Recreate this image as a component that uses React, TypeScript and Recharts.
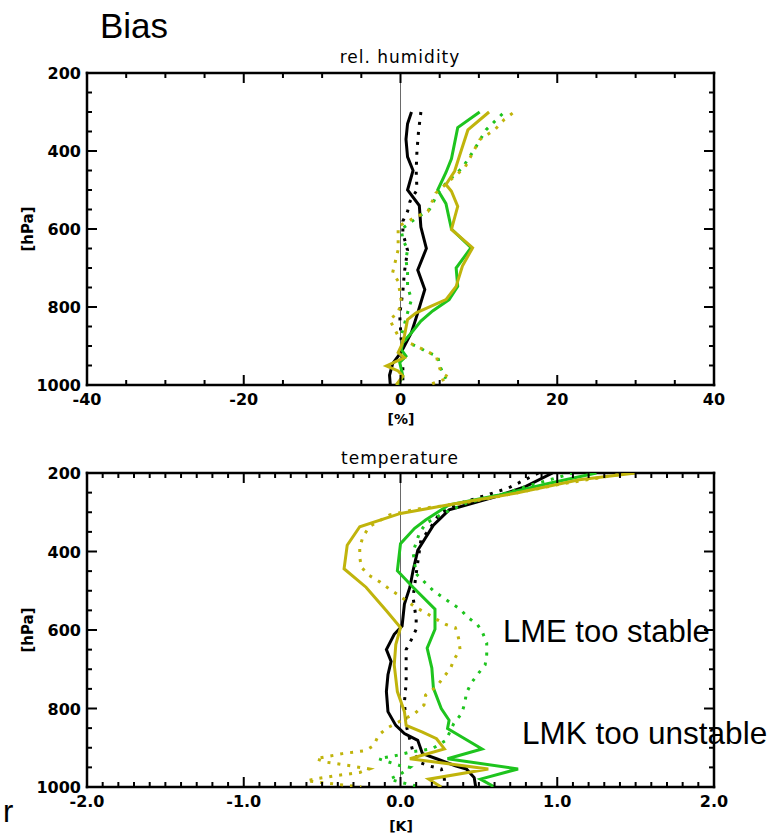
import React from "react";
import { ScatterChart, Scatter, XAxis, YAxis, ReferenceLine } from "recharts";

// profiles are [pressure hPa, bias] pairs, top to bottom
type Pt = [number, number];

const GREEN = "#1ec41e";
const OLIVE = "#c0b40c";
const BLACK = "#000000";

const pressureTicks = [200, 250, 300, 350, 400, 450, 500, 550, 600, 650, 700, 750, 800, 850, 900, 950, 1000];
const rhTicks = [-40, -35, -30, -25, -20, -15, -10, -5, 0, 5, 10, 15, 20, 25, 30, 35, 40];
const tTicks = Array.from({ length: 41 }, (_, i) => (i - 20) / 10);

// relative humidity bias [%]
const rhBlackSolid: Pt[] = [
  [300, 1.4], [330, 0.9], [370, 0.7], [415, 0.9], [450, 1.6], [500, 0.9], [540, 2.4], [595, 2.6],
  [650, 3.3], [705, 2.2], [755, 3.1], [815, 2.2], [865, 1.4], [915, 0.1], [945, -1.0], [975, -1.4], [1000, -1.3],
];
const rhBlackDotted: Pt[] = [
  [300, 2.6], [350, 2.3], [400, 2.1], [450, 2.0], [500, 2.1], [530, 1.2], [555, 0.9], [580, 0.3], [610, 0.3],
  [655, 0.9], [710, 0.5], [760, 0.3], [820, -0.1], [890, 0.1], [940, 0.3], [1000, 0.3],
];
const rhGreenSolid: Pt[] = [
  [300, 10.1], [340, 7.3], [420, 6.5], [455, 5.8], [500, 4.75], [535, 5.8], [600, 6.5], [648, 9.0], [700, 7.1],
  [747, 7.3], [781, 6.2], [810, 4.1], [836, 2.6], [866, 1.4], [891, 0.3], [909, 0.1], [926, 0.7], [942, -0.1],
  [977, 0.3], [1000, -0.3],
];
const rhGreenDotted: Pt[] = [
  [305, 13.0], [346, 10.9], [397, 9.4], [443, 7.9], [469, 6.5], [499, 5.0], [550, 3.7], [567, 2.4], [584, 1.2],
  [601, 0.1], [627, 0.3], [653, 0.9], [678, 0.7], [712, 0.9], [747, 0.9], [781, 1.4], [815, 0.9], [874, 0.1],
  [891, 0.9], [904, 2.4], [917, 3.5], [926, 4.75], [951, 5.0], [968, 5.4], [984, 5.8],
];
const rhOliveSolid: Pt[] = [
  [300, 11.3], [346, 8.6], [414, 7.5], [452, 6.9], [486, 5.8], [503, 6.5], [542, 7.3], [601, 6.5], [648, 9.2],
  [695, 7.9], [747, 7.1], [781, 5.8], [815, 2.0], [832, 0.9], [874, 0.5], [900, 0.1], [917, -0.3], [930, 0.5],
  [951, -1.8], [964, -0.3], [977, 0.3], [1000, -0.55],
];
const rhOliveDotted: Pt[] = [
  [303, 14.3], [320, 13.2], [346, 12.0], [371, 10.1], [443, 8.2], [465, 6.9], [508, 4.5], [555, 3.5], [567, 2.2],
  [593, -0.3], [653, -0.3], [712, -1.0], [734, -0.3], [785, 0.1], [815, -0.3], [832, -1.4], [874, -0.3],
  [887, 0.5], [900, 2.0], [913, 3.3], [926, 4.6], [943, 4.75], [968, 5.2], [981, 6.2], [1000, 3.6],
];

// temperature bias [K]
const tBlackSolid: Pt[] = [
  [200, 0.97], [234, 0.8], [260, 0.61], [294, 0.31], [333, 0.21], [397, 0.11], [449, 0.08], [491, 0.06],
  [534, 0.025], [590, 0.01], [611, -0.04], [650, -0.09], [680, -0.06], [714, -0.08], [757, -0.09], [808, -0.08],
  [843, -0.03], [864, 0.025], [881, 0.11], [915, 0.14], [928, 0.23], [946, 0.35], [954, 0.42], [976, 0.47], [1000, 0.48],
];
const tBlackDotted: Pt[] = [
  [200, 0.88], [238, 0.69], [260, 0.52], [277, 0.38], [303, 0.25], [346, 0.18], [371, 0.13], [457, 0.1],
  [517, 0.08], [543, 0.09], [573, 0.1], [598, 0.1], [624, 0.07], [650, 0.036], [735, 0.036], [784, 0.025],
  [843, 0.036], [911, 0.08], [937, 0.12], [946, 0.18], [954, 0.26], [980, 0.28], [1000, 0.28],
];
const tGreenSolid: Pt[] = [
  [200, 1.25], [226, 0.95], [256, 0.63], [281, 0.31], [320, 0.16], [341, 0.09], [380, 0.0], [449, -0.02],
  [491, 0.08], [547, 0.22], [598, 0.22], [646, 0.17], [697, 0.2], [748, 0.21], [800, 0.26], [830, 0.31],
  [851, 0.3], [877, 0.41], [903, 0.52], [928, 0.3], [954, 0.75], [980, 0.51], [1000, 0.6],
];
const tGreenDotted: Pt[] = [
  [200, 1.1], [213, 0.99], [230, 0.84], [256, 0.63], [277, 0.42], [303, 0.27], [329, 0.16], [354, 0.12],
  [401, 0.08], [457, 0.1], [500, 0.21], [517, 0.27], [547, 0.38], [568, 0.43], [586, 0.49], [603, 0.52],
  [633, 0.55], [663, 0.55], [689, 0.54], [714, 0.49], [736, 0.45], [761, 0.42], [787, 0.41], [813, 0.39],
  [838, 0.34], [881, 0.29], [903, 0.2], [911, 0.06], [920, -0.03], [928, -0.14], [937, -0.07], [946, 0.0],
  [950, 0.06], [967, 0.0], [980, -0.07], [988, 0.0], [1000, 0.13],
];
const tOliveSolid: Pt[] = [
  [200, 1.5], [217, 1.14], [251, 0.74], [281, 0.31], [303, 0.0], [337, -0.26], [384, -0.34], [444, -0.36],
  [491, -0.22], [551, -0.09], [594, 0.0], [637, -0.03], [689, -0.04], [757, -0.02], [808, 0.025], [843, 0.036],
  [860, 0.14], [877, 0.23], [903, 0.28], [928, 0.06], [954, 0.56], [980, 0.18], [1000, 0.26],
];
const tOliveDotted: Pt[] = [
  [200, 1.45], [230, 1.0], [262, 0.6], [280, 0.35], [292, 0.1], [307, -0.07], [337, -0.2], [363, -0.24],
  [389, -0.26], [414, -0.26], [440, -0.25], [461, -0.2], [478, -0.13], [496, -0.07], [509, -0.02], [543, 0.1],
  [556, 0.16], [573, 0.23], [586, 0.29], [594, 0.35], [620, 0.37], [650, 0.38], [676, 0.34], [697, 0.32],
  [723, 0.27], [744, 0.23], [766, 0.16], [791, 0.15], [813, 0.09], [838, -0.03], [851, -0.09], [868, -0.14],
  [894, -0.17], [907, -0.22], [915, -0.37], [924, -0.49], [928, -0.54], [937, -0.47], [946, -0.32], [954, -0.2],
  [963, -0.26], [971, -0.41], [980, -0.55], [984, -0.6], [988, -0.52], [1000, -0.25],
];

type Series = { data: Pt[]; color: string; dotted: boolean };

const rhSeries: Series[] = [
  { data: rhBlackSolid, color: BLACK, dotted: false },
  { data: rhBlackDotted, color: BLACK, dotted: true },
  { data: rhGreenSolid, color: GREEN, dotted: false },
  { data: rhGreenDotted, color: GREEN, dotted: true },
  { data: rhOliveSolid, color: OLIVE, dotted: false },
  { data: rhOliveDotted, color: OLIVE, dotted: true },
];
const tSeries: Series[] = [
  { data: tBlackSolid, color: BLACK, dotted: false },
  { data: tBlackDotted, color: BLACK, dotted: true },
  { data: tGreenSolid, color: GREEN, dotted: false },
  { data: tGreenDotted, color: GREEN, dotted: true },
  { data: tOliveSolid, color: OLIVE, dotted: false },
  { data: tOliveDotted, color: OLIVE, dotted: true },
];

const IDL_FONT = "'DejaVu Sans', sans-serif";
const ANNO_FONT = "'Liberation Sans', Arial, sans-serif";

const isMajor = (v: number, step: number) => Math.abs(v / step - Math.round(v / step)) < 1e-6;
const noShape = () => <g />;

const tickLabelStyle = { fontFamily: IDL_FONT, fontWeight: 700, fontSize: 16, fill: "#000" };

function makeTicks(side: "bottom" | "top" | "left" | "right", step: number, fmt?: (v: number) => string) {
  return (props: any) => {
    const { x, y, payload } = props;
    const major = isMajor(payload.value, step);
    const len = major ? 10 : 5;
    let line;
    if (side === "bottom") line = <line x1={x} y1={y} x2={x} y2={y - len} />;
    else if (side === "top") line = <line x1={x} y1={y} x2={x} y2={y + len} />;
    else if (side === "left") line = <line x1={x} y1={y} x2={x + len} y2={y} />;
    else line = <line x1={x} y1={y} x2={x - len} y2={y} />;
    return (
      <g stroke="#000" strokeWidth={2}>
        {line}
        {major && fmt && side === "bottom" && (
          <text x={x} y={y + 20} textAnchor="middle" stroke="none" style={tickLabelStyle}>
            {fmt(payload.value)}
          </text>
        )}
        {major && fmt && side === "left" && (
          <text x={x - 6} y={y + 6} textAnchor="end" stroke="none" style={tickLabelStyle}>
            {fmt(payload.value)}
          </text>
        )}
      </g>
    );
  };
}

const axisLine = { stroke: "#000", strokeWidth: 2.5, strokeLinecap: "square" as const };

function ProfilePanel({
  series,
  domain,
  ticks,
  step,
  fmt,
  height,
}: {
  series: Series[];
  domain: [number, number];
  ticks: number[];
  step: number;
  fmt: (v: number) => string;
  height: number;
}) {
  return (
    <ScatterChart width={770} height={height} margin={{ top: 72, right: 55, bottom: 0, left: 0 }}>
      <XAxis
        xAxisId="b"
        type="number"
        dataKey="x"
        domain={domain}
        ticks={ticks}
        interval={0}
        height={34}
        tickSize={0}
        tickMargin={0}
        tickLine={false}
        axisLine={axisLine}
        tick={makeTicks("bottom", step, fmt)}
        allowDataOverflow
      />
      <XAxis
        xAxisId="t"
        orientation="top"
        type="number"
        dataKey="x"
        domain={domain}
        ticks={ticks}
        interval={0}
        height={1}
        tickSize={0}
        tickMargin={0}
        tickLine={false}
        axisLine={axisLine}
        tick={makeTicks("top", step)}
        allowDataOverflow
      />
      <YAxis
        yAxisId="l"
        type="number"
        dataKey="y"
        domain={[200, 1000]}
        reversed
        ticks={pressureTicks}
        interval={0}
        width={87}
        tickSize={0}
        tickMargin={0}
        tickLine={false}
        axisLine={axisLine}
        tick={makeTicks("left", 200, (v) => String(v))}
        allowDataOverflow
      />
      <YAxis
        yAxisId="r"
        orientation="right"
        type="number"
        dataKey="y"
        domain={[200, 1000]}
        reversed
        ticks={pressureTicks}
        interval={0}
        width={1}
        tickSize={0}
        tickMargin={0}
        tickLine={false}
        axisLine={axisLine}
        tick={makeTicks("right", 200)}
        allowDataOverflow
      />
      <ReferenceLine xAxisId="b" yAxisId="l" x={0} stroke="#6a6a6a" strokeWidth={1} />
      {series.map((s, i) => (
        <Scatter
          key={i}
          xAxisId={s.dotted ? "t" : "b"}
          yAxisId={s.dotted ? "r" : "l"}
          data={s.data.map(([p, v]) => ({ x: v, y: p }))}
          shape={noShape}
          fill={s.color}
          line={{
            stroke: s.color,
            strokeWidth: 3,
            strokeDasharray: s.dotted ? "3 7" : "none",
          }}
          legendType="none"
          isAnimationActive={false}
        />
      ))}
    </ScatterChart>
  );
}

const centered = (left: number, top: number, extra: React.CSSProperties = {}): React.CSSProperties => ({
  position: "absolute",
  left,
  top,
  transform: "translate(-50%, -50%)",
  whiteSpace: "nowrap",
  lineHeight: 1,
  ...extra,
});

export default function App() {
  return (
    <div style={{ position: "relative", width: 770, height: 835, background: "#fff", overflow: "hidden" }}>
      <style>{`body{margin:0;background:#fff}`}</style>
      <div style={{ position: "absolute", left: 0, top: 0 }}>
        <ProfilePanel series={rhSeries} domain={[-40, 40]} ticks={rhTicks} step={20} fmt={(v) => String(v)} height={419} />
      </div>
      <div style={{ position: "absolute", left: 0, top: 400 }}>
        <ProfilePanel series={tSeries} domain={[-2, 2]} ticks={tTicks} step={1} fmt={(v) => v.toFixed(1)} height={421} />
      </div>

      <div style={{ position: "absolute", left: 100, top: 8, fontFamily: ANNO_FONT, fontSize: 35, lineHeight: 1 }}>Bias</div>

      <div style={centered(400, 57, { fontFamily: IDL_FONT, fontSize: 17, letterSpacing: 1 })}>rel. humidity</div>
      <div style={centered(400, 458, { fontFamily: IDL_FONT, fontSize: 17, letterSpacing: 1 })}>temperature</div>

      <div style={centered(401, 419, { fontFamily: IDL_FONT, fontSize: 14, fontWeight: 700 })}>[%]</div>
      <div style={centered(401, 826, { fontFamily: IDL_FONT, fontSize: 14, fontWeight: 700 })}>[K]</div>
      <div style={centered(28, 229, { fontFamily: IDL_FONT, fontSize: 15, fontWeight: 700, transform: "translate(-50%, -50%) rotate(-90deg)" })}>[hPa]</div>
      <div style={centered(28, 630, { fontFamily: IDL_FONT, fontSize: 15, fontWeight: 700, transform: "translate(-50%, -50%) rotate(-90deg)" })}>[hPa]</div>

      <div style={{ position: "absolute", left: 503, top: 616, fontFamily: ANNO_FONT, fontSize: 31, lineHeight: 1, whiteSpace: "nowrap" }}>
        LME too stable
      </div>
      <div style={{ position: "absolute", left: 522, top: 718, fontFamily: ANNO_FONT, fontSize: 31.5, lineHeight: 1, whiteSpace: "nowrap" }}>
        LMK too unstable
      </div>
      <div style={{ position: "absolute", left: 3, top: 796, fontFamily: ANNO_FONT, fontSize: 31, lineHeight: 1 }}>r</div>
    </div>
  );
}
